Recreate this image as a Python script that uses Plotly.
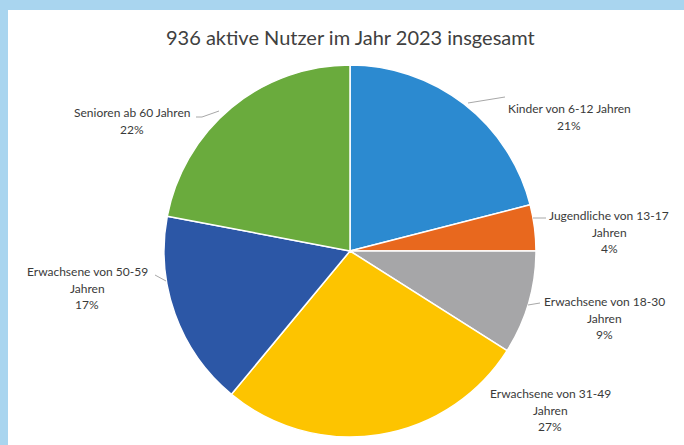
import plotly.graph_objects as go

# ---- data ----
categories = [
    "Kinder von 6-12 Jahren",
    "Jugendliche von 13-17 Jahren",
    "Erwachsene von 18-30 Jahren",
    "Erwachsene von 31-49 Jahren",
    "Erwachsene von 50-59 Jahren",
    "Senioren ab 60 Jahren",
]
label_lines = [
    ["Kinder von 6-12 Jahren"],
    ["Jugendliche von 13-17", "Jahren"],
    ["Erwachsene von 18-30", "Jahren"],
    ["Erwachsene von 31-49", "Jahren"],
    ["Erwachsene von 50-59", "Jahren"],
    ["Senioren ab 60 Jahren"],
]
shares = [21, 4, 9, 27, 17, 22]
colors = ["#2C8AD0", "#E8681E", "#A6A6A8", "#FDC400", "#2C57A6", "#6AAB3D"]
title_text = "936 aktive Nutzer im Jahr 2023 insgesamt"

# ---- layout constants (pixels in a 684x445 canvas) ----
W, H = 684, 445
CX, CY, R = 350, 251, 186
LINE_H = 16.5
# label block centres
label_pos = [(569, 117), (609, 232), (604, 318), (550, 410), (87, 288), (132, 121)]
# leader lines (pixel polylines)
leaders = [
    [(468, 103), (505, 97)],
    [(533, 218), (546, 218)],
    [(528, 305), (540, 303)],
    [(155, 275), (166, 281)],
    [(196, 117), (202, 117), (219, 111)],
]

def px(x):
    return x / W

def py(y):
    return 1 - y / H

fig = go.Figure(go.Pie(
    labels=categories,
    values=shares,
    sort=False,
    direction="clockwise",
    rotation=0,
    marker=dict(colors=colors, line=dict(color="white", width=1.5)),
    textinfo="none",
    hoverinfo="label+percent",
    showlegend=False,
    domain=dict(x=[px(CX - R), px(CX + R)], y=[py(CY + R), py(CY - R)]),
))

shapes = [
    # light-blue frame
    dict(type="rect", xref="paper", yref="paper", x0=0, x1=px(8), y0=0, y1=1,
         fillcolor="#A9D5EF", line=dict(width=0), layer="below"),
    dict(type="rect", xref="paper", yref="paper", x0=0, x1=1, y0=py(10), y1=1,
         fillcolor="#A9D5EF", line=dict(width=0), layer="below"),
]
for pts in leaders:
    path = "M " + " L ".join(f"{px(x)},{py(y)}" for x, y in pts)
    shapes.append(dict(type="path", xref="paper", yref="paper", path=path,
                       line=dict(color="#a8a8a8", width=1)))

annotations = []
total = sum(shares)
for i, v in enumerate(shares):
    pct = round(v / total * 100)
    lines = label_lines[i] + [f"{pct}%"]
    lx, ly = label_pos[i]
    n = len(lines)
    for j, t in enumerate(lines):
        yy = ly + (j - (n - 1) / 2) * LINE_H
        annotations.append(dict(
            x=px(lx), y=py(yy), xref="paper", yref="paper",
            text=t, showarrow=False,
            xanchor="center", yanchor="middle", align="center",
            font=dict(family="Lato, Open Sans, sans-serif", size=12, color="#3a3a3a"),
        ))

annotations.append(dict(
    x=px(350), y=py(37), xref="paper", yref="paper", text=title_text,
    showarrow=False, xanchor="center", yanchor="middle",
    font=dict(family="Lato, Open Sans, sans-serif", size=20, color="#404040"),
))

fig.update_layout(
    width=W, height=H,
    margin=dict(l=0, r=0, t=0, b=0),
    paper_bgcolor="white",
    plot_bgcolor="white",
    shapes=shapes,
    annotations=annotations,
)

fig.write_html("out.html", config={"displayModeBar": False},
               post_script="document.body.style.margin='0';")
